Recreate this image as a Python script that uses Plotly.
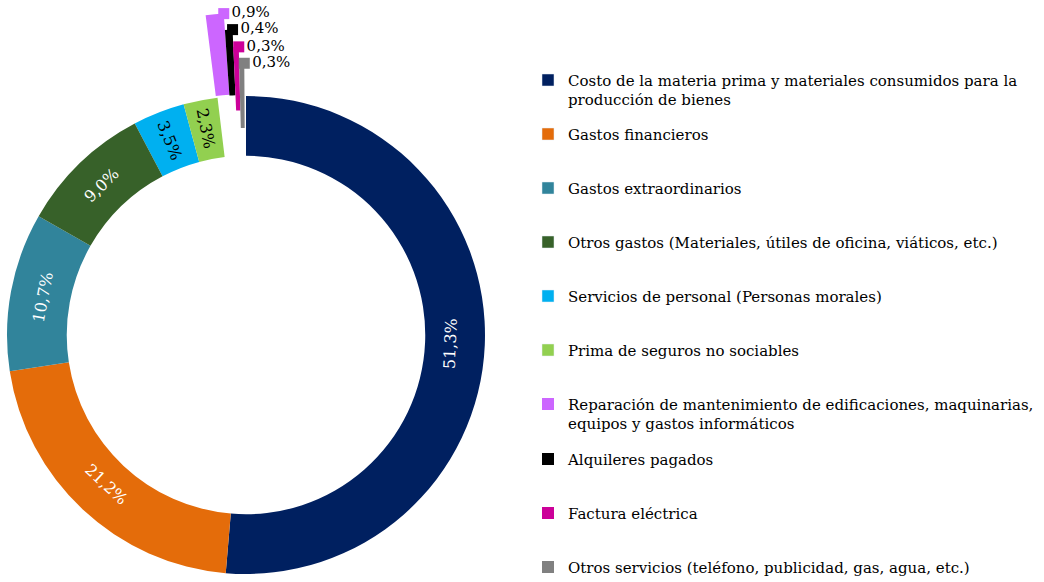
import numpy as np
import plotly.graph_objects as go

# categorias y porcentajes (en el orden del grafico, sentido horario desde arriba)
categorias = [
    "Costo de la materia prima y materiales consumidos para la<br>producción de bienes",
    "Gastos financieros",
    "Gastos extraordinarios",
    "Otros gastos (Materiales, útiles de oficina, viáticos, etc.)",
    "Servicios de personal (Personas morales)",
    "Prima de seguros no sociables",
    "Reparación de mantenimiento de edificaciones, maquinarias,<br>equipos y gastos informáticos",
    "Alquileres pagados",
    "Factura eléctrica",
    "Otros servicios (teléfono, publicidad, gas, agua, etc.)",
]
porcentajes = [51.3, 21.2, 10.7, 9.0, 3.5, 2.3, 0.9, 0.4, 0.3, 0.3]
etiquetas = ["51,3%", "21,2%", "10,7%", "9,0%", "3,5%", "2,3%", "0,9%", "0,4%", "0,3%", "0,3%"]

colores = ["#002060", "#E46C0A", "#31849B", "#376129", "#00B0F0",
           "#92D050", "#CC66FF", "#000000", "#CC0099", "#808080"]
color_texto = ["white", "white", "white", "white", "black", "black",
               "black", "black", "black", "black"]

# rebanadas del anillo con texto tangencial / radial; el resto va separado
tangencial = [0, 1, 2, 3]
radial = [4, 5]
separadas = [6, 7, 8, 9]

W, H = 1044, 582
cx, cy = 246, 335          # centro del anillo (px)
R = 239                    # radio exterior (px)
hueco = 0.75
fuente = "DejaVu Serif"
transp = "rgba(0,0,0,0)"

# separacion de las rebanadas pequenas (en unidades del radio)
sep_base = [1.008, 1.004, 0.94, 0.866]
sep_tope = [1.348, 1.279, 1.206, 1.137]

vals = np.array(porcentajes)
inicio = np.concatenate([[0], np.cumsum(vals)[:-1]]) * 3.6
medio = inicio + vals * 1.8
fin = inicio + vals * 3.6

# leyendas: (indices, posicion superior en px)
leyendas = [("legend", [0], 63.75), ("legend2", [1, 2, 3, 4, 5], 117.75),
            ("legend3", [6], 387.75), ("legend4", [7, 8, 9], 442.75)]
leyenda_de = {i: nombre for nombre, idx, _ in leyendas for i in idx}


# anillo principal (dos capas: texto radial y texto tangencial)
def anillo(indices, orientacion):
    return go.Pie(
        labels=[c.replace("<br>", " ") for c in categorias],
        values=porcentajes,
        text=[etiquetas[i] if i in indices else "" for i in range(len(vals))],
        textinfo="text",
        textposition=["inside" if i in indices else "none" for i in range(len(vals))],
        insidetextorientation=orientacion,
        insidetextfont=dict(family=fuente, size=16, color=color_texto),
        marker=dict(colors=[colores[i] if i in indices else transp for i in range(len(vals))],
                    line=dict(width=0)),
        hole=hueco, sort=False, direction="clockwise",
        domain=dict(x=[(cx - R) / W, (cx + R) / W],
                    y=[(H - cy - R) / H, (H - cy + R) / H]),
        showlegend=False, hoverinfo="label+percent",
    )


traces = [anillo(radial, "radial"), anillo(tangencial, "tangential")]

# entradas de leyenda de las rebanadas del anillo
for i in tangencial + radial:
    traces.append(go.Barpolar(
        r=[None], theta=[None], name=categorias[i],
        marker=dict(color=colores[i]),
        legend=leyenda_de[i], legendgroup="g%d" % i,
        hoverinfo="skip", subplot="polar",
    ))

# rebanadas separadas
for k, i in enumerate(separadas):
    traces.append(go.Barpolar(
        r=[sep_tope[k] - sep_base[k]], base=[sep_base[k]],
        theta=[medio[i]], width=[vals[i] * 3.6],
        name=categorias[i],
        marker=dict(color=colores[i], line=dict(width=0)),
        legend=leyenda_de[i], legendgroup="g%d" % i,
        hoverinfo="skip", subplot="polar",
    ))

# etiquetas de las rebanadas separadas (con clave de color)
traces.append(go.Scatterpolar(
    r=sep_tope, theta=fin[separadas],
    mode="markers+text",
    text=[etiquetas[i] for i in separadas],
    textposition="middle right",
    textfont=dict(family=fuente, size=15, color="black"),
    marker=dict(symbol="square", size=11, color=[colores[i] for i in separadas]),
    cliponaxis=False, showlegend=False, hoverinfo="skip", subplot="polar",
))

# subgrafico polar en cuna para las rebanadas separadas
sector = [74, 100]
Rp = cy
x0 = min(0, np.cos(np.radians(sector[1])))
x1 = max(0, np.cos(np.radians(sector[0])))

layout = go.Layout(
    width=W, height=H,
    margin=dict(l=0, r=0, t=0, b=0, autoexpand=False),
    paper_bgcolor="white",
    font=dict(family=fuente, size=15, color="black"),
    showlegend=True,
    hovermode=False,
    polar=dict(
        domain=dict(x=[(cx + x0 * Rp) / W, (cx + x1 * Rp) / W],
                    y=[(H - cy) / H, 1]),
        sector=sector,
        bgcolor=transp,
        radialaxis=dict(range=[0, Rp / R], visible=False, showgrid=False),
        angularaxis=dict(rotation=90, direction="clockwise", visible=False,
                         showgrid=False, showline=False),
    ),
)
for nombre, idx, top in leyendas:
    layout[nombre] = dict(
        x=528 / W, xanchor="left",
        y=1 - top / H, yanchor="top",
        traceorder="grouped", tracegroupgap=31.5,
        valign="top",
        font=dict(family=fuente, size=15, color="black"),
        bgcolor=transp,
    )

fig = go.Figure(data=traces, layout=layout)
fig.write_html("out.html", config={"displayModeBar": False},
               post_script="document.body.style.margin = '0';")
